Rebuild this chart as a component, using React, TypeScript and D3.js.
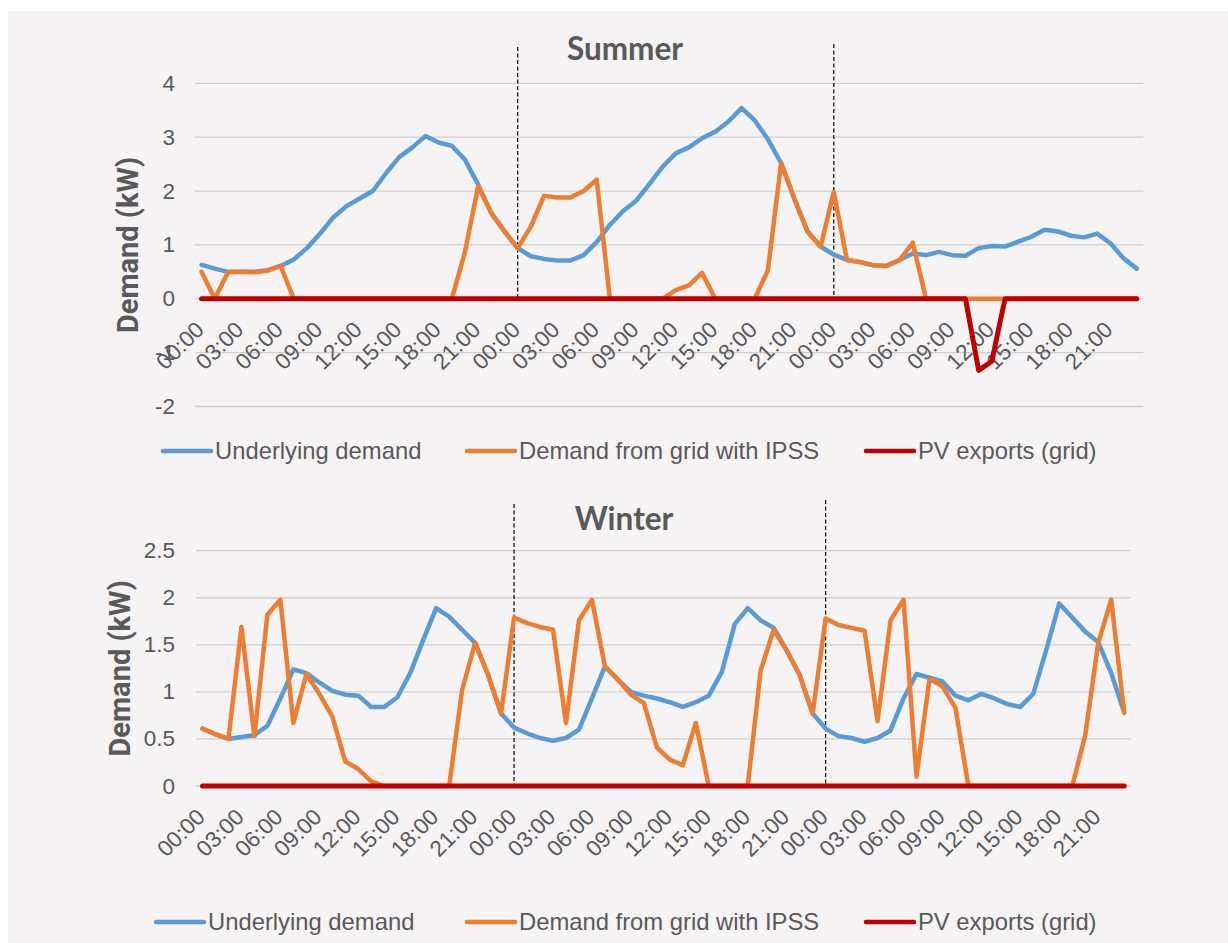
import React from 'react';
import * as d3 from 'd3';

const WIDTH = 1228;
const HEIGHT = 943;
const FONT = '"Liberation Sans", Arial, sans-serif';
const TEXT = '#595959';

// 3 days of hourly values
const DAYS = 3;
const HOURS = 24;
const tickLabels = ['00:00', '03:00', '06:00', '09:00', '12:00', '15:00', '18:00', '21:00'];

const seriesNames = ['Underlying demand', 'Demand from grid with IPSS', 'PV exports (grid)'];
const seriesColors = ['#5B9BD5', '#ED7D31', '#C00000'];

const summerUnderlying = [
    0.63, 0.56, 0.5, 0.5, 0.5, 0.53, 0.61, 0.73, 0.94, 1.21, 1.51, 1.72,
    1.86, 2.0, 2.33, 2.63, 2.81, 3.02, 2.9, 2.84, 2.58, 2.12, 1.59, 1.25,
    0.94, 0.79, 0.74, 0.71, 0.71, 0.81, 1.05, 1.37, 1.63, 1.82, 2.13, 2.45,
    2.7, 2.81, 2.98, 3.1, 3.29, 3.54, 3.31, 2.96, 2.52, 1.86, 1.25, 0.97,
    0.82, 0.72, 0.68, 0.62, 0.61, 0.72, 0.84, 0.81, 0.87, 0.81, 0.8, 0.94,
    0.98, 0.97, 1.06, 1.15, 1.28, 1.25, 1.17, 1.14, 1.21, 1.03, 0.75, 0.56,
];
const summerGrid = [
    0.5, 0, 0.49, 0.5, 0.49, 0.52, 0.61, 0, 0, 0, 0, 0,
    0, 0, 0, 0, 0, 0, 0, 0, 0.87, 2.09, 1.59, 1.25,
    0.94, 1.34, 1.91, 1.88, 1.88, 2.0, 2.21, 0, 0, 0, 0, 0,
    0.16, 0.25, 0.48, 0, 0, 0, 0, 0.53, 2.52, 1.86, 1.25, 0.97,
    1.98, 0.72, 0.68, 0.62, 0.61, 0.72, 1.04, 0, 0, 0, 0, 0,
    0, 0, 0, 0, 0, 0, 0, 0, 0, 0, 0, 0,
];
const summerExports = [
    0, 0, 0, 0, 0, 0, 0, 0, 0, 0, 0, 0,
    0, 0, 0, 0, 0, 0, 0, 0, 0, 0, 0, 0,
    0, 0, 0, 0, 0, 0, 0, 0, 0, 0, 0, 0,
    0, 0, 0, 0, 0, 0, 0, 0, 0, 0, 0, 0,
    0, 0, 0, 0, 0, 0, 0, 0, 0, 0, 0, -1.33,
    -1.16, 0, 0, 0, 0, 0, 0, 0, 0, 0, 0, 0,
];

const winterUnderlying = [
    0.61, 0.55, 0.5, 0.52, 0.54, 0.64, 0.93, 1.24, 1.2, 1.1, 1.01, 0.97,
    0.96, 0.84, 0.84, 0.94, 1.2, 1.55, 1.89, 1.8, 1.66, 1.52, 1.18, 0.77,
    0.62, 0.56, 0.51, 0.48, 0.51, 0.6, 0.93, 1.27, 1.13, 1.0, 0.96, 0.93,
    0.89, 0.84, 0.89, 0.96, 1.21, 1.72, 1.89, 1.76, 1.68, 1.44, 1.18, 0.77,
    0.61, 0.53, 0.51, 0.47, 0.51, 0.59, 0.93, 1.19, 1.15, 1.11, 0.96, 0.91,
    0.98, 0.93, 0.87, 0.84, 0.98, 1.45, 1.94, 1.79, 1.64, 1.53, 1.2, 0.78,
];
const winterGrid = [
    0.61, 0.55, 0.5, 1.69, 0.53, 1.82, 1.98, 0.67, 1.19, 0.98, 0.74, 0.26,
    0.18, 0.05, 0, 0, 0, 0, 0, 0, 1.02, 1.52, 1.18, 0.77,
    1.79, 1.73, 1.69, 1.66, 0.67, 1.76, 1.98, 1.27, 1.13, 0.97, 0.88, 0.41,
    0.28, 0.22, 0.67, 0, 0, 0, 0, 1.23, 1.66, 1.44, 1.18, 0.77,
    1.78, 1.71, 1.68, 1.65, 0.69, 1.76, 1.98, 0.1, 1.14, 1.06, 0.83, 0,
    0, 0, 0, 0, 0, 0, 0, 0, 0.54, 1.52, 1.98, 0.78,
];
const winterExports = [
    0, 0, 0, 0, 0, 0, 0, 0, 0, 0, 0, 0,
    0, 0, 0, 0, 0, 0, 0, 0, 0, 0, 0, 0,
    0, 0, 0, 0, 0, 0, 0, 0, 0, 0, 0, 0,
    0, 0, 0, 0, 0, 0, 0, 0, 0, 0, 0, 0,
    0, 0, 0, 0, 0, 0, 0, 0, 0, 0, 0, 0,
    0, 0, 0, 0, 0, 0, 0, 0, 0, 0, 0, 0,
];

const summerYTicks = [-2, -1, 0, 1, 2, 3, 4];
const winterYTicks = [0, 0.5, 1, 1.5, 2, 2.5];

type PanelProps = {
    title: string;
    series: number[][];
    yTicks: number[];
    left: number;
    right: number;
    top: number;
    bottom: number;
    titleX: number;
    titleY: number;
    yTitleX: number;
    dashTops: number[];
    legendY: number;
    legendX: number[];
};

function Panel(p: PanelProps) {
    const n = DAYS * HOURS;
    const x = d3.scaleBand<number>().domain(d3.range(n)).range([p.left, p.right]);
    const cx = (i: number) => (x(i) as number) + x.bandwidth() / 2;
    const y = d3
        .scaleLinear()
        .domain([p.yTicks[0], p.yTicks[p.yTicks.length - 1]])
        .range([p.bottom, p.top]);
    const line = d3
        .line<number>()
        .x((d, i) => cx(i))
        .y((d) => y(d));
    const y0 = y(0);
    const labelIdx = d3.range(0, n, 3);

    return (
        <g>
            {p.yTicks.map((t) => (
                <g key={t}>
                    <line x1={p.left} x2={p.right} y1={y(t)} y2={y(t)} stroke="#cfcfcf" strokeWidth={1.3} />
                    <text
                        x={175}
                        y={y(t)}
                        textAnchor="end"
                        dominantBaseline="central"
                        fontSize={22.5}
                        fill={TEXT}
                        fontFamily={FONT}
                    >
                        {String(t)}
                    </text>
                </g>
            ))}
            {labelIdx.map((i) => (
                <text
                    key={i}
                    transform={`translate(${cx(i) - 1.5},${y0 + 27}) rotate(-45)`}
                    textAnchor="end"
                    dominantBaseline="central"
                    fontSize={22.5}
                    fill={TEXT}
                    fontFamily={FONT}
                >
                    {tickLabels[(i / 3) % tickLabels.length]}
                </text>
            ))}
            {[HOURS, HOURS * 2].map((i, k) => (
                <line
                    key={i}
                    x1={cx(i)}
                    x2={cx(i)}
                    y1={p.dashTops[k]}
                    y2={y0}
                    stroke="#000"
                    strokeWidth={1.2}
                    strokeDasharray="4 2.5"
                />
            ))}
            {p.series.map((s, k) => (
                <path
                    key={k}
                    d={line(s) || ''}
                    fill="none"
                    stroke={seriesColors[k]}
                    strokeWidth={k === 2 ? 5 : 4.5}
                    strokeLinejoin="round"
                    strokeLinecap="round"
                />
            ))}
            <text
                x={p.titleX}
                y={p.titleY}
                textAnchor="middle"
                fontSize={31.5}
                fontWeight="bold"
                fill={TEXT}
                fontFamily="Lato, 'Open Sans', sans-serif"
            >
                {p.title}
            </text>
            <text
                transform={`translate(${p.yTitleX},${(p.top + p.bottom) / 2}) rotate(-90)`}
                textAnchor="middle"
                fontSize={29}
                fontWeight="bold"
                fill={TEXT}
                fontFamily="Roboto, sans-serif"
            >
                Demand (kW)
            </text>
            {seriesNames.map((name, k) => (
                <g key={name}>
                    <line
                        x1={p.legendX[k]}
                        x2={p.legendX[k] + 48}
                        y1={p.legendY}
                        y2={p.legendY}
                        stroke={seriesColors[k]}
                        strokeWidth={4.5}
                        strokeLinecap="round"
                    />
                    <text
                        x={p.legendX[k] + 52}
                        y={p.legendY - 1}
                        dominantBaseline="central"
                        fontSize={23.8}
                        fill={TEXT}
                        fontFamily={FONT}
                    >
                        {name}
                    </text>
                </g>
            ))}
        </g>
    );
}

export default function App() {
    return (
        <svg
            width={WIDTH}
            height={HEIGHT}
            style={{ position: 'absolute', left: 0, top: 0 }}
        >
            <rect x={0} y={0} width={WIDTH} height={HEIGHT} fill="#ffffff" />
            <rect x={8} y={11} width={WIDTH - 8} height={HEIGHT - 11} fill="#f5f3f4" />
            <Panel
                title="Summer"
                series={[summerUnderlying, summerGrid, summerExports]}
                yTicks={summerYTicks}
                left={195}
                right={1143.3}
                top={83.3}
                bottom={406.5}
                titleX={625}
                titleY={60}
                yTitleX={137.5}
                dashTops={[47, 44]}
                legendY={451}
                legendX={[163, 467, 866]}
            />
            <Panel
                title="Winter"
                series={[winterUnderlying, winterGrid, winterExports]}
                yTicks={winterYTicks}
                left={196}
                right={1130.7}
                top={550.7}
                bottom={786}
                titleX={624}
                titleY={530}
                yTitleX={130}
                dashTops={[504, 500]}
                legendY={922}
                legendX={[156, 467, 866]}
            />
        </svg>
    );
}
